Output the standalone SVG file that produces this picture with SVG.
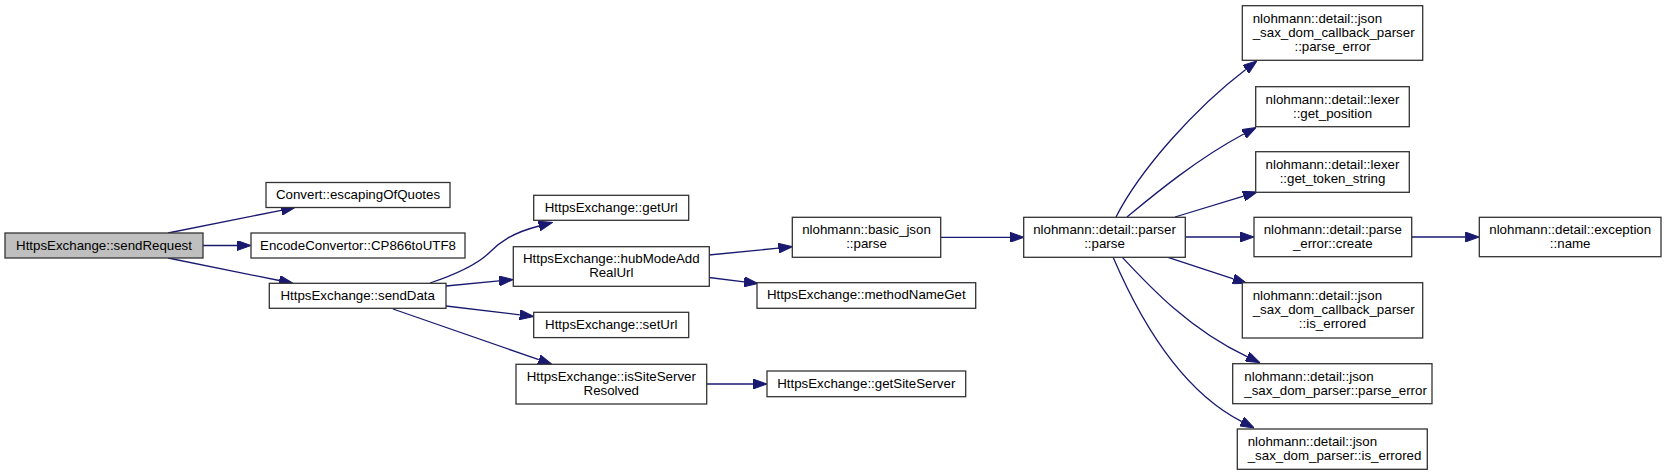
<svg xmlns="http://www.w3.org/2000/svg" width="1667" height="475" viewBox="0 0 1667 475">
<style>
.n rect{fill:#ffffff;stroke:#333333;stroke-width:1.3}
.n.root rect{fill:#bfbfbf}
.n text{font-family:"Liberation Sans",Arial,Helvetica,sans-serif;font-size:13.3px;fill:#000000;text-anchor:middle}
.n text.l{text-anchor:start}
.e path{fill:none;stroke:#191970;stroke-width:1.3}
</style>
<defs>
<marker id="ah" viewBox="0 0 14 10" refX="0" refY="5" markerWidth="14" markerHeight="10" markerUnits="userSpaceOnUse" orient="auto">
<path d="M0,0 L14,5 L0,10 z" fill="#191970" stroke="#191970" stroke-width="1"/>
</marker>
</defs>
<rect x="0" y="0" width="1667" height="475" fill="#ffffff"/>
<g id="edges" class="e">
<path marker-end="url(#ah)" d="M168,233 L281.3,210.3"/>
<path marker-end="url(#ah)" d="M203,245.5 L237,245.5"/>
<path marker-end="url(#ah)" d="M168,258 L279.3,280.5"/>
<path marker-end="url(#ah)" d="M430,283 C460,273 478,264 490,252 C500,242 512,233 539,226"/>
<path marker-end="url(#ah)" d="M446,286 L499.1,280.9"/>
<path marker-end="url(#ah)" d="M446,306 L519.8,314.8"/>
<path marker-end="url(#ah)" d="M393,309 L538.8,359.7"/>
<path marker-end="url(#ah)" d="M709,255 L778.4,248.1"/>
<path marker-end="url(#ah)" d="M709,277.5 L744.1,281.8"/>
<path marker-end="url(#ah)" d="M941,237.3 L1010,237.3"/>
<path marker-end="url(#ah)" d="M1116,217 C1140,170 1195,108 1245.8,69.4"/>
<path marker-end="url(#ah)" d="M1127,217 C1150,198 1195,160 1243.8,134"/>
<path marker-end="url(#ah)" d="M1175,217 L1243.6,196.1"/>
<path marker-end="url(#ah)" d="M1185.3,237 L1240,237"/>
<path marker-end="url(#ah)" d="M1411.7,237 L1465.3,237"/>
<path marker-end="url(#ah)" d="M1168,257.3 L1233.4,278.9"/>
<path marker-end="url(#ah)" d="M1122,257 C1150,287 1190,330 1247.1,356.6"/>
<path marker-end="url(#ah)" d="M1113,257 C1140,320 1180,390 1241.8,421.6"/>
<path marker-end="url(#ah)" d="M706.7,384 L753,384"/>
</g>
<g id="n_sendRequest" class="n root"><rect x="5" y="233" width="198" height="25"/><text x="104" y="249.5">HttpsExchange::sendRequest</text></g>
<g id="n_escapingOfQuotes" class="n"><rect x="266" y="182.5" width="184" height="25"/><text x="358" y="199">Convert::escapingOfQuotes</text></g>
<g id="n_CP866toUTF8" class="n"><rect x="251" y="233" width="214" height="25"/><text x="358" y="249.5">EncodeConvertor::CP866toUTF8</text></g>
<g id="n_sendData" class="n"><rect x="269.3" y="283.3" width="176.7" height="25"/><text x="357.7" y="299.8">HttpsExchange::sendData</text></g>
<g id="n_getUrl" class="n"><rect x="533.7" y="195.3" width="155" height="25"/><text x="611.2" y="211.8">HttpsExchange::getUrl</text></g>
<g id="n_hubModeAddRealUrl" class="n"><rect x="513.3" y="246.7" width="196" height="39.6"/><text x="611.3" y="263.3">HttpsExchange::hubModeAdd</text><text x="611.3" y="277.3">RealUrl</text></g>
<g id="n_setUrl" class="n"><rect x="533.7" y="312.3" width="155" height="25.3"/><text x="611.2" y="329">HttpsExchange::setUrl</text></g>
<g id="n_isSiteServerResolved" class="n"><rect x="516" y="364.3" width="190.7" height="39.7"/><text x="611.3" y="381">HttpsExchange::isSiteServer</text><text x="611.3" y="395">Resolved</text></g>
<g id="n_methodNameGet" class="n"><rect x="757" y="282.7" width="218.7" height="25.6"/><text x="866.3" y="299.3">HttpsExchange::methodNameGet</text></g>
<g id="n_getSiteServer" class="n"><rect x="767" y="371" width="198.7" height="25.7"/><text x="866.3" y="387.6">HttpsExchange::getSiteServer</text></g>
<g id="n_basic_json_parse" class="n"><rect x="792.3" y="217.3" width="148.4" height="40"/><text x="866.5" y="234.1">nlohmann::basic_json</text><text x="866.5" y="248.1">::parse</text></g>
<g id="n_parser_parse" class="n"><rect x="1023.7" y="217.3" width="161.6" height="40"/><text x="1104.5" y="234.1">nlohmann::detail::parser</text><text x="1104.5" y="248.1">::parse</text></g>
<g id="n_cb_parse_error" class="n"><rect x="1242.3" y="5.7" width="180.4" height="54.6"/><text class="l" x="1252.7" y="22.8">nlohmann::detail::json</text><text class="l" x="1252.7" y="36.8">_sax_dom_callback_parser</text><text x="1332.5" y="50.8">::parse_error</text></g>
<g id="n_get_position" class="n"><rect x="1255.7" y="86.7" width="153.6" height="40"/><text x="1332.5" y="103.5">nlohmann::detail::lexer</text><text x="1332.5" y="117.5">::get_position</text></g>
<g id="n_get_token_string" class="n"><rect x="1255.7" y="151.7" width="153.6" height="40.6"/><text x="1332.5" y="168.8">nlohmann::detail::lexer</text><text x="1332.5" y="182.8">::get_token_string</text></g>
<g id="n_parse_error_create" class="n"><rect x="1254" y="217.3" width="157.7" height="39.4"/><text x="1332.8" y="233.8">nlohmann::detail::parse</text><text x="1332.8" y="247.8">_error::create</text></g>
<g id="n_exception_name" class="n"><rect x="1479.3" y="217.3" width="181.7" height="39.4"/><text x="1570.2" y="233.8">nlohmann::detail::exception</text><text x="1570.2" y="247.8">::name</text></g>
<g id="n_cb_is_errored" class="n"><rect x="1242.3" y="282.7" width="180.4" height="55.3"/><text class="l" x="1252.7" y="300.1">nlohmann::detail::json</text><text class="l" x="1252.7" y="314.1">_sax_dom_callback_parser</text><text x="1332.5" y="328.1">::is_errored</text></g>
<g id="n_sax_parse_error" class="n"><rect x="1232.7" y="363.7" width="199.3" height="40"/><text class="l" x="1244.3" y="380.5">nlohmann::detail::json</text><text class="l" x="1244.3" y="394.5">_sax_dom_parser::parse_error</text></g>
<g id="n_sax_is_errored" class="n"><rect x="1237.3" y="429" width="190" height="40.3"/><text class="l" x="1247.7" y="446">nlohmann::detail::json</text><text class="l" x="1247.7" y="460">_sax_dom_parser::is_errored</text></g>
</svg>
